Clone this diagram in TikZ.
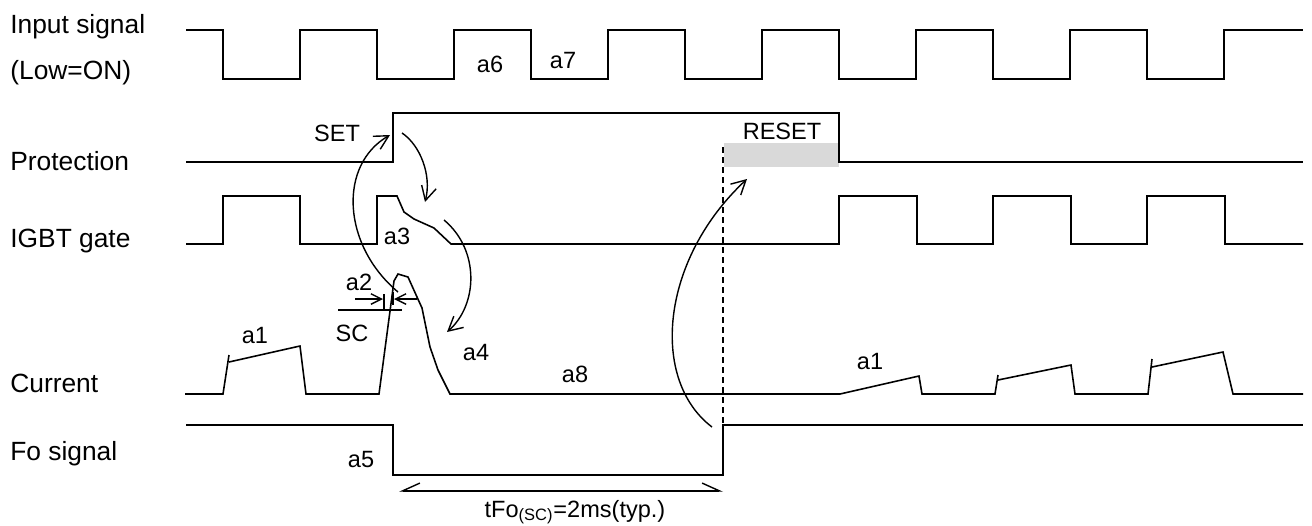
\documentclass[tikz,border=0pt]{standalone}
\usepackage{fontspec}
\setmainfont{Liberation Sans}
\usetikzlibrary{arrows.meta}

\begin{document}
\begin{tikzpicture}[x=0.02cm, y=-0.02cm,
  wave/.style={line width=0.9pt, line join=miter},
  flow/.style={line width=0.8pt, -{Straight Barb[length=8pt, width=8.5pt]}},
  tick/.style={line width=0.8pt, -{Straight Barb[length=6pt, width=6pt]}},
  rowlabel/.style={font=\fontsize{15}{18}\selectfont, anchor=base west, inner sep=0pt},
  tag/.style={font=\fontsize{13.4}{16}\selectfont, anchor=base, inner sep=0pt}]
  \useasboundingbox (0,0) rectangle (1312,525);

  % ── Row labels ──
  \node[rowlabel] (lblIn)   at (10,33)  {Input signal};
  \node[rowlabel] (lblLow)  at (10,79)  {(Low=ON)};
  \node[rowlabel] (lblProt) at (10,170) {Protection};
  \node[rowlabel] (lblGate) at (10,247) {IGBT gate};
  \node[rowlabel] (lblCur)  at (10,392) {Current};
  \node[rowlabel] (lblFo)   at (10,460) {Fo signal};

  % ── Input signal ──
  \draw[wave] (186,30)
    foreach \k in {0,...,6} { -- ({223+154*\k},30) -- ({223+154*\k},79)
      -- ({300+154*\k},79) -- ({300+154*\k},30) }
    -- (1303,30);
  \node[tag] (a6) at (490,72) {a6};
  \node[tag] (a7) at (563,68) {a7};

  % ── Protection ──
  \fill[gray!30] (724,143) rectangle (839,167);
  \draw[wave] (186,162) -- (393,162) -- (393,113) -- (839,113) -- (839,162) -- (1303,162);
  \node[tag] (set)   at (337,141) {SET};
  \node[tag] (reset) at (782,139) {RESET};

  % ── IGBT gate ──
  \draw[wave] (186,244) -- (223,244) -- (223,196) -- (300,196) -- (300,244)
    -- (377,244) -- (377,196) -- (397,196) -- (404,212) -- (414,219) -- (434,228) -- (451,244)
    foreach \k in {0,1,2} { -- ({839+154*\k},244) -- ({839+154*\k},196)
      -- ({917+154*\k},196) -- ({917+154*\k},244) }
    -- (1303,244);
  \node[tag] (a3) at (397,244) {a3};

  % ── Current ──
  \draw[wave] (185,394) -- (223,394) -- (229,355);
  \draw[wave] (229,362) -- (300,346) -- (306,394) -- (379,394) -- (394,281) -- (398,274)
    -- (408,277) -- (417,297) -- (422,308) -- (430,347) -- (438,370) -- (450,394)
    -- (840,394) -- (919,376) -- (922,394) -- (995,394) -- (998,375);
  \draw[wave] (998,380) -- (1071,365) -- (1075,394) -- (1148,394) -- (1152,359);
  \draw[wave] (1152,367) -- (1223,352) -- (1233,394) -- (1303,394);
  % short-circuit level and delay a2
  \draw[wave] (338,310) -- (402,310);
  \draw[line width=0.8pt] (384,294) -- (384,310);
  \draw[line width=0.8pt] (393,292) -- (393,305);
  \coordinate (a2L) at (383,299);
  \coordinate (a2R) at (394,299);
  \draw[tick] (355,299) -- (a2L);
  \draw[tick] (417,299) -- (a2R);
  \node[tag] (a2)  at (359,290) {a2};
  \node[tag] (sc)  at (352,341) {SC};
  \node[tag] (a1)  at (255,343) {a1};
  \node[tag] (a4)  at (476,360) {a4};
  \node[tag] (a8)  at (575,382) {a8};
  \node[tag] (a1b) at (870,369) {a1};

  % ── Fo signal ──
  \draw[line width=0.8pt, dash pattern=on 3.4pt off 2.3pt] (723,147) -- (723,425);
  \draw[wave] (186,425) -- (393,425) -- (393,475) -- (723,475) -- (723,425) -- (1303,425);
  \node[tag] (a5) at (361,467) {a5};
  \coordinate (dimL) at (399,491);
  \coordinate (dimR) at (723,491);
  \draw[line width=0.8pt, {Straight Barb[right, length=10pt, width=9pt]}-{Straight Barb[left, length=10pt, width=9pt]}]
    (dimL) -- (dimR);
  \node[tag] (tfo) at (575,517) {tFo\textsubscript{(SC)}=2ms(typ.)};

  % ── Sequence arrows ──
  \coordinate (peak)     at (398,292);
  \coordinate (setTip)   at (390,135);
  \coordinate (setOut)   at (402,133);
  \coordinate (gateTip)  at (425,202);
  \coordinate (gateOut)  at (444,220);
  \coordinate (curTip)   at (447,332);
  \coordinate (foRise)   at (712,427);
  \coordinate (resetTip) at (747,179);
  \draw[flow] (peak) .. controls (342,245) and (338,165) .. (setTip);
  \draw[flow] (setOut) .. controls (420,145) and (432,175) .. (gateTip);
  \draw[flow] (gateOut) .. controls (480,250) and (478,305) .. (curTip);
  \draw[flow] (foRise) .. controls (650,380) and (660,260) .. (resetTip);
\end{tikzpicture}
\end{document}
